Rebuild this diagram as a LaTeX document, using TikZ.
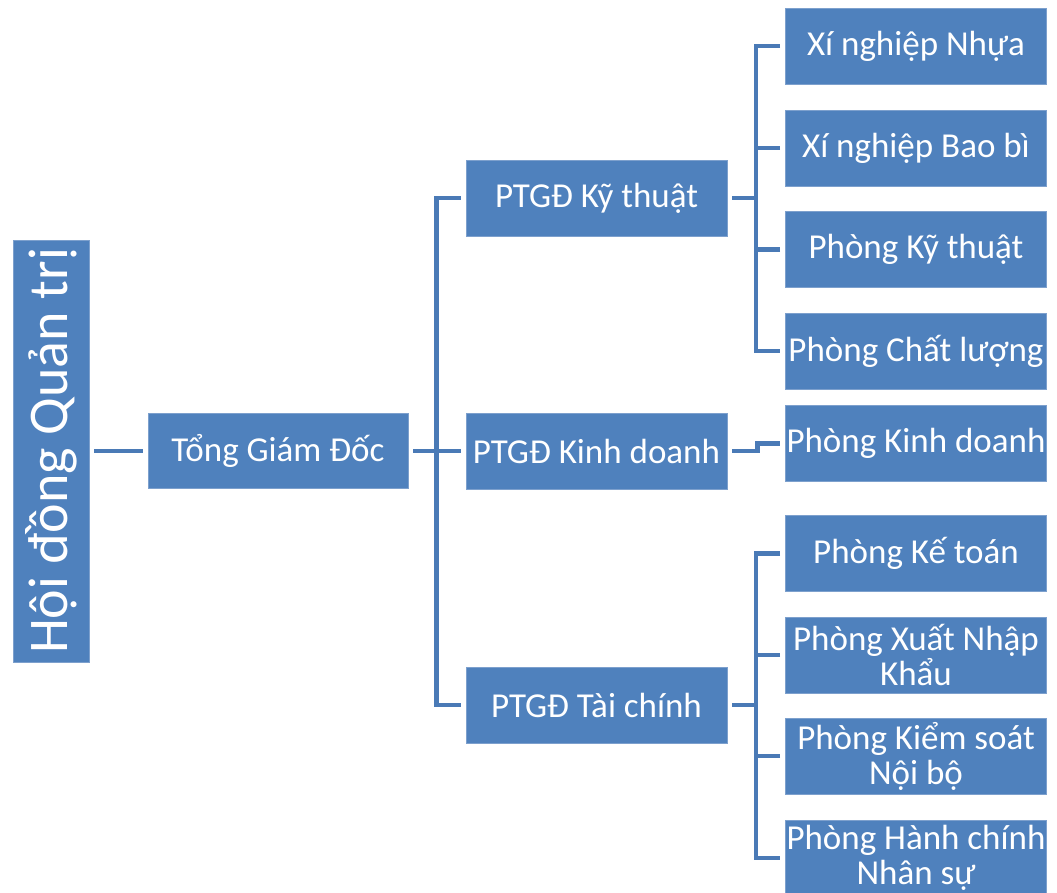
\documentclass[tikz,border=0pt]{standalone}
\usepackage{fontspec}
\setmainfont{Carlito}
\usepackage{tikz}

\definecolor{boxblue}{RGB}{79,129,189}
\definecolor{boxedge}{RGB}{125,160,205}
\definecolor{lineblue}{RGB}{74,122,182}

\begin{document}
\begin{tikzpicture}[x=1pt,y=-1pt,
  box/.style={rectangle,fill=boxblue,draw=boxedge,line width=0.8pt,text=white,inner sep=0pt,
    minimum height=76pt,align=center,font=\fontsize{35}{35}\selectfont},
  conn/.style={draw=lineblue,line width=4.5pt,shorten <=5pt,shorten >=5pt}]
\useasboundingbox (0,0) rectangle (1057,892);
% left column
\node[box,rotate=90,minimum width=422pt,minimum height=76pt,font=\fontsize{56}{60}\selectfont] (hdqt) at (51,451) {Hội đồng Quản trị};
\node[box,minimum width=260pt,minimum height=75pt] (tgd) at (278,451) {Tổng Giám Đốc};
% deputies
\node[box,minimum width=261pt] (kt) at (596.5,198) {PTGĐ Kỹ thuật};
\node[box,minimum width=261pt] (kd) at (596.5,451) {PTGĐ Kinh doanh};
\node[box,minimum width=261pt] (tc) at (596.5,705) {PTGĐ Tài chính};
% departments
\node[box,minimum width=261pt] (xnn) at (916,46) {Xí nghiệp Nhựa};
\node[box,minimum width=261pt] (xnb) at (916,148) {Xí nghiệp Bao bì};
\node[box,minimum width=261pt] (pkt) at (916,249.5) {Phòng Kỹ thuật};
\node[box,minimum width=261pt] (pcl) at (916,351) {Phòng Chất lượng};
\node[box,minimum width=261pt] (pkd) at (916,443.5) {Phòng Kinh doanh};
\node[box,minimum width=261pt] (pkto) at (916,553.5) {Phòng Kế toán};
\node[box,minimum width=261pt] (pxnk) at (916,655) {Phòng Xuất Nhập\\Khẩu};
\node[box,minimum width=261pt] (pks) at (916,756) {Phòng Kiểm soát\\Nội bộ};
\node[box,minimum width=261pt] (phc) at (916,858) {Phòng Hành chính\\Nhân sự};
% connectors
\draw[conn] (hdqt.south) -- (tgd.west);
\draw[conn,shorten >=0pt] (tgd.east) -- ++(29,0);
\draw[conn] (kt.west) -- ++(-29,0) |- (tc.west);
\draw[conn,shorten <=0pt] (tgd.east -| kt.west) ++(-29,0) -- (kd.west);
\draw[conn] (xnn.west) -- ++(-29,0) |- (pcl.west);
\draw[conn,shorten >=0pt] (kt.east) -- ++(30,0);
\draw[conn,shorten >=0pt] (xnb.west) -- ++(-29,0);
\draw[conn,shorten >=0pt] (pkt.west) -- ++(-29,0);
\draw[conn] (kd.east) -- ++(30,0) |- (pkd.west);
\draw[conn] (pkto.west) -- ++(-29,0) |- (phc.west);
\draw[conn,shorten >=0pt] (tc.east) -- ++(30,0);
\draw[conn,shorten >=0pt] (pxnk.west) -- ++(-29,0);
\draw[conn,shorten >=0pt] (pks.west) -- ++(-29,0);
\end{tikzpicture}
\end{document}
